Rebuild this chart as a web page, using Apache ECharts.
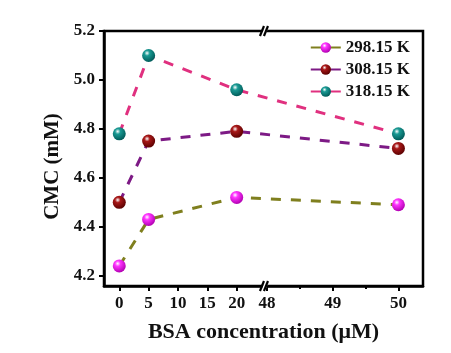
<!DOCTYPE html>
<html>
<head>
<meta charset="utf-8">
<script src="https://cdn.jsdelivr.net/npm/echarts@6/dist/echarts.min.js"></script>
<style>
  html, body { margin: 0; padding: 0; background: #fff; }
  #chart { width: 451px; height: 353px; }
</style>
</head>
<body>
<div id="chart"></div>
<script>
// BSA concentration (uM) and CMC (mM) per temperature
const concentration = [0, 5, 20, 50]
const cmc298 = [4.24, 4.43, 4.52, 4.49]
const cmc308 = [4.50, 4.75, 4.79, 4.72]
const cmc318 = [4.78, 5.10, 4.96, 4.78]
const seriesNames = ['298.15 K', '308.15 K', '318.15 K']

const xTicks = [0, 5, 10, 15, 20, 48, 49, 50]
const xMinorTicks = [48.5, 49.5]
const yTicks = [4.2, 4.4, 4.6, 4.8, 5.0, 5.2]

// broken x axis: 0..24 keeps its scale, 48..50 is stretched
const BREAK_AT = 24.65
const RIGHT_START = 25.15
const RIGHT_SCALE = 11.2
function toAxis(x) {
  return x <= 24 ? x : RIGHT_START + (x - 48) * RIGHT_SCALE
}
function labelFor(v) {
  const hit = xTicks.find(t => Math.abs(toAxis(t) - v) < 1e-6)
  return hit === undefined ? '' : String(hit)
}

const font = "'Liberation Serif', 'Times New Roman', serif"
const yMin = 4.158

function ball(base, dark) {
  return new echarts.graphic.RadialGradient(0.38, 0.32, 0.7, [
    { offset: 0, color: '#ffffff' },
    { offset: 0.3, color: base },
    { offset: 1, color: dark }
  ])
}

function makeSeries(name, values, lineColor, base, dark) {
  return {
    name,
    type: 'line',
    data: concentration.map((c, i) => [toAxis(c), values[i]]),
    symbol: 'circle',
    symbolSize: 13,
    z: 3,
    lineStyle: { color: lineColor, width: 3, type: [10, 10] },
    itemStyle: { color: ball(base, dark), borderWidth: 0 }
  }
}

const chart = echarts.init(document.getElementById('chart'))
chart.setOption({
  animation: false,
  grid: {
    left: 104,
    right: 28,
    top: 31,
    bottom: 67,
    show: true,
    borderColor: '#000',
    borderWidth: 2.5
  },
  legend: {
    orient: 'vertical',
    right: 36,
    top: 34,
    itemWidth: 30,
    itemHeight: 13,
    itemGap: 5,
    lineStyle: { type: 'solid' },
    textStyle: { fontFamily: font, fontWeight: 'bold', fontSize: 17, color: '#111' },
    data: seriesNames
  },
  xAxis: [{
    type: 'value',
    min: -2.6,
    max: 51.74,
    name: 'BSA concentration (μM)',
    nameLocation: 'middle',
    nameGap: 35,
    nameTextStyle: { fontFamily: font, fontWeight: 'bold', fontSize: 22, color: '#111' },
    axisLine: { lineStyle: { color: '#000', width: 2.5 } },
    axisTick: { customValues: xTicks.map(toAxis), length: 5, lineStyle: { width: 2, color: '#000' } },
    axisLabel: {
      customValues: xTicks.map(toAxis),
      formatter: labelFor,
      margin: 9,
      fontFamily: font, fontWeight: 'bold', fontSize: 17, color: '#111'
    },
    splitLine: { show: false }
  }, {
    type: 'value',
    position: 'bottom',
    min: -2.6,
    max: 51.74,
    axisLine: { show: false },
    axisTick: { customValues: xMinorTicks.map(toAxis), length: 3, lineStyle: { width: 2, color: '#000' } },
    axisLabel: { show: false },
    splitLine: { show: false }
  }],
  yAxis: {
    type: 'value',
    min: yMin,
    max: 5.2,
    name: 'CMC (mM)',
    nameLocation: 'middle',
    nameGap: 38,
    nameTextStyle: { fontFamily: font, fontWeight: 'bold', fontSize: 21, color: '#111', padding: [0, 16, 0, 0] },
    axisLine: { show: true, onZero: false, lineStyle: { color: '#000', width: 2.5 } },
    axisTick: { show: true, customValues: yTicks, length: 5, lineStyle: { width: 2, color: '#000' } },
    axisLabel: {
      customValues: yTicks,
      formatter: v => v.toFixed(1),
      margin: 9,
      fontFamily: font, fontWeight: 'bold', fontSize: 17, color: '#111'
    },
    splitLine: { show: false }
  },
  series: [
    makeSeries(seriesNames[0], cmc298, '#7f7f1e', '#ff33ff', '#b000b0'),
    makeSeries(seriesNames[1], cmc308, '#7d1a85', '#a81818', '#5a0000'),
    makeSeries(seriesNames[2], cmc318, '#e0307f', '#1a9a94', '#005a58')
  ]
})

// "//" break marks on the bottom and top frame
const bx = chart.convertToPixel({ xAxisIndex: 0 }, BREAK_AT)
const yBottom = chart.convertToPixel({ yAxisIndex: 0 }, yMin)
const yTop = chart.convertToPixel({ yAxisIndex: 0 }, 5.2)
const marks = []
;[yBottom, yTop].forEach(y => {
  marks.push({
    type: 'polygon', z: 100,
    shape: { points: [[bx - 3, y + 5], [bx + 1, y + 5], [bx + 5, y - 5], [bx + 1, y - 5]] },
    style: { fill: '#fff' }
  })
  marks.push({
    type: 'line', z: 101,
    shape: { x1: bx - 4, y1: y + 5, x2: bx, y2: y - 5 },
    style: { stroke: '#000', lineWidth: 2.2 }
  })
  marks.push({
    type: 'line', z: 101,
    shape: { x1: bx, y1: y + 5, x2: bx + 4, y2: y - 5 },
    style: { stroke: '#000', lineWidth: 2.2 }
  })
})
chart.setOption({ graphic: marks })
</script>
</body>
</html>
